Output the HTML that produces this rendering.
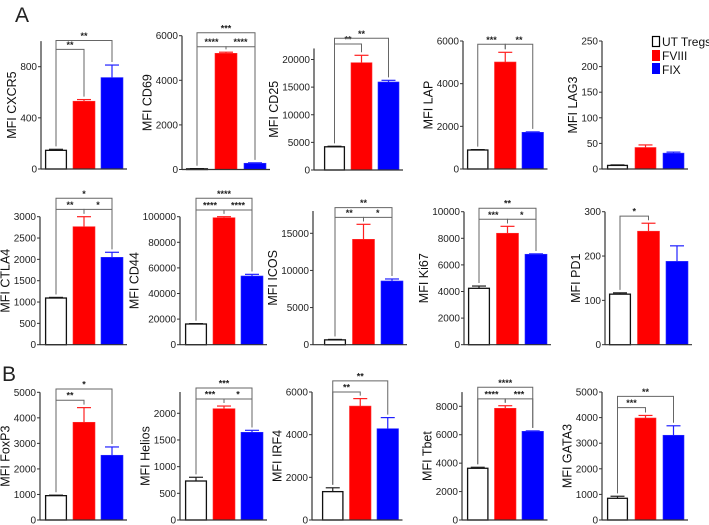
<!DOCTYPE html>
<html><head><meta charset="utf-8"><style>
html,body{margin:0;padding:0;background:#fff;}
svg{display:block;font-family:"Liberation Sans",Arial,sans-serif;}
</style></head><body>
<svg id="fig" width="709" height="525" viewBox="0 0 709 525">
<text x="15" y="22" font-size="21" fill="#222">A</text>
<text x="2" y="381" font-size="21" fill="#222">B</text>
<g>
<rect x="652.5" y="36.5" width="7" height="10" fill="#fff" stroke="#000" stroke-width="1.2"/>
<text x="662" y="46" font-size="12" fill="#111">UT Tregs</text>
<rect x="652" y="50" width="8" height="11" fill="#ff0000"/>
<text x="662" y="60" font-size="12" fill="#111">FVIII</text>
<rect x="652" y="63" width="8" height="11" fill="#0000ff"/>
<text x="662" y="74" font-size="12" fill="#111">FIX</text>
</g>
</svg>
<script>
const categories = ['UT Tregs','FVIII','FIX'];
const cxcr5Values=[146,530,715]; const cxcr5Errors=[8,13,98];
const cd69Values=[30,5210,280]; const cd69Errors=[10,50,20];
const cd25Values=[4200,19420,15930]; const cd25Errors=[100,1340,300];
const lapValues=[890,5015,1720]; const lapErrors=[20,455,20];
const lag3Values=[7,42,31]; const lag3Errors=[1,5,2];
const ctla4Values=[1094,2766,2048]; const ctla4Errors=[15,234,118];
const cd44Values=[16170,99200,53670]; const cd44Errors=[300,800,1300];
const icosValues=[650,14190,8580]; const icosErrors=[60,2020,270];
const ki67Values=[4240,8380,6800]; const ki67Errors=[170,520,30];
const pd1Values=[114,256,188]; const pd1Errors=[3,18,35];
const foxp3Values=[953,3826,2535]; const foxp3Errors=[20,574,325];
const heliosValues=[731,2086,1644]; const heliosErrors=[70,50,37];
const irf4Values=[1330,5340,4280]; const irf4Errors=[180,350,520];
const tbetValues=[3640,7860,6240]; const tbetErrors=[70,180,30];
const gata3Values=[848,3984,3310]; const gata3Errors=[80,100,370];
const cxcr5Ticks=[0,400,800];
const cd69Ticks=[0,2000,4000,6000];
const cd25Ticks=[0,5000,10000,15000,20000];
const lapTicks=[0,2000,4000,6000];
const lag3Ticks=[0,50,100,150,200,250];
const ctla4Ticks=[0,500,1000,1500,2000,2500,3000];
const cd44Ticks=[0,20000,40000,60000,80000,100000];
const icosTicks=[0,5000,10000,15000];
const ki67Ticks=[0,2000,4000,6000,8000,10000];
const pd1Ticks=[0,100,200,300];
const foxp3Ticks=[0,1000,2000,3000,4000,5000];
const heliosTicks=[0,500,1000,1500,2000];
const irf4Ticks=[0,2000,4000,6000];
const tbetTicks=[0,2000,4000,6000,8000];
const gata3Ticks=[0,1000,2000,3000,4000,5000];
// significance brackets: [from, to, level, label]
const cxcr5Sig=[[0,1,935,'**'],[0,2,1005,'**']];
const cd69Sig=[[0,1,5505,'****'],[1,2,5505,'****'],[0,2,6130,'***']];
const cd25Sig=[[0,1,22800,'**'],[0,2,23840,'**']];
const lapSig=[[0,1,5845,'***'],[1,2,5845,'**']];
const lag3Sig=[];
const ctla4Sig=[[0,1,3173,'**'],[1,2,3173,'*'],[0,2,3431,'*']];
const cd44Sig=[[0,1,105200,'****'],[1,2,105200,'****'],[0,2,114380,'****']];
const icosSig=[[0,1,17150,'**'],[1,2,17150,'*'],[0,2,18450,'**']];
const ki67Sig=[[0,1,9430,'***'],[1,2,9430,'*'],[0,2,10260,'**']];
const pd1Sig=[[0,1,290,'*']];
const foxp3Sig=[[0,1,4690,'**'],[0,2,5130,'*']];
const heliosSig=[[0,1,2268,'***'],[1,2,2268,'*'],[0,2,2475,'***']];
const irf4Sig=[[0,1,6000,'**'],[0,2,6520,'**']];
const tbetSig=[[0,1,8520,'****'],[1,2,8520,'***'],[0,2,9340,'****']];
const gata3Sig=[[0,1,4390,'***'],[0,2,4830,'**']];

const panels=[
 {id:'cxcr5',label:'MFI CXCR5',x0:41,base:169,topVal:800,topPx:66.7,axisMax:1000,off:4,sp:28,w:22,vals:cxcr5Values,errs:cxcr5Errors,ticks:cxcr5Ticks,sig:cxcr5Sig},
 {id:'cd69',label:'MFI CD69',x0:182,base:169.5,topVal:6000,topPx:35.7,axisMax:6000,off:4,sp:29,w:22,vals:cd69Values,errs:cd69Errors,ticks:cd69Ticks,sig:cd69Sig},
 {id:'cd25',label:'MFI CD25',x0:314,base:170,topVal:20000,topPx:59.5,axisMax:22000,off:10,sp:27,w:21,vals:cd25Values,errs:cd25Errors,ticks:cd25Ticks,sig:cd25Sig},
 {id:'lap',label:'MFI LAP',x0:463,base:169,topVal:6000,topPx:41,axisMax:6000,off:4,sp:27.5,w:21.5,vals:lapValues,errs:lapErrors,ticks:lapTicks,sig:lapSig},
 {id:'lag3',label:'MFI LAG3',x0:602,base:169,topVal:250,topPx:41,axisMax:250,off:5,sp:28,w:21,vals:lag3Values,errs:lag3Errors,ticks:lag3Ticks,sig:lag3Sig},
 {id:'ctla4',label:'MFI CTLA4',x0:40,base:344.7,topVal:3000,topPx:216.7,axisMax:3000,off:5,sp:28,w:22,vals:ctla4Values,errs:ctla4Errors,ticks:ctla4Ticks,sig:ctla4Sig},
 {id:'cd44',label:'MFI CD44',x0:180,base:344.7,topVal:100000,topPx:216.7,axisMax:100000,off:5,sp:28,w:22,vals:cd44Values,errs:cd44Errors,ticks:cd44Ticks,sig:cd44Sig},
 {id:'icos',label:'MFI ICOS',x0:313,base:344.7,topVal:15000,topPx:233.3,axisMax:18000,off:11,sp:28.5,w:22,vals:icosValues,errs:icosErrors,ticks:icosTicks,sig:icosSig},
 {id:'ki67',label:'MFI Ki67',x0:464,base:344.7,topVal:10000,topPx:211.7,axisMax:10000,off:4,sp:28.5,w:22,vals:ki67Values,errs:ki67Errors,ticks:ki67Ticks,sig:ki67Sig},
 {id:'pd1',label:'MFI PD1',x0:605,base:344.7,topVal:300,topPx:211.7,axisMax:300,off:4,sp:28.5,w:22,vals:pd1Values,errs:pd1Errors,ticks:pd1Ticks,sig:pd1Sig},
 {id:'foxp3',label:'MFI FoxP3',x0:40,base:520,topVal:5000,topPx:392.3,axisMax:5000,off:5,sp:28,w:22,vals:foxp3Values,errs:foxp3Errors,ticks:foxp3Ticks,sig:foxp3Sig},
 {id:'helios',label:'MFI Helios',x0:180,base:520,topVal:2000,topPx:413.3,axisMax:2400,off:5,sp:28,w:22,vals:heliosValues,errs:heliosErrors,ticks:heliosTicks,sig:heliosSig},
 {id:'irf4',label:'MFI IRF4',x0:312,base:520,topVal:6000,topPx:392,axisMax:6000,off:10,sp:27.5,w:21.5,vals:irf4Values,errs:irf4Errors,ticks:irf4Ticks,sig:irf4Sig},
 {id:'tbet',label:'MFI Tbet',x0:462,base:520,topVal:8000,topPx:406.3,axisMax:9000,off:5,sp:27.5,w:21.5,vals:tbetValues,errs:tbetErrors,ticks:tbetTicks,sig:tbetSig},
 {id:'gata3',label:'MFI GATA3',x0:602,base:520,topVal:5000,topPx:392,axisMax:5000,off:5,sp:28,w:21,vals:gata3Values,errs:gata3Errors,ticks:gata3Ticks,sig:gata3Sig}
];
const NS='http://www.w3.org/2000/svg';
const svg=document.getElementById('fig');
const fills=['#ffffff','#ff0000','#0000ff'];
const strokes=['#111','#ff3030','#3030ff'];
const errCols=['#222','#ff2020','#2020ff'];
const slug=['ut-tregs','fviii','fix'];
function mk(tag,attrs,parent){const e=document.createElementNS(NS,tag);for(const k in attrs)e.setAttribute(k,attrs[k]);parent.appendChild(e);return e;}
panels.forEach(p=>{
 const g=mk('g',{},svg);
 
 
 const k=(p.base-p.topPx)/p.topVal;
 const y=v=>p.base-v*k;
 const xL=i=>p.x0+p.off+i*p.sp;
 const xC=i=>xL(i)+p.w/2;
 const xEnd=p.x0+p.off+2*p.sp+p.w+4;
 p.vals.forEach((v,i)=>{
  const top=y(v+p.errs[i]);
  const el=mk('line',{x1:xC(i),x2:xC(i),y1:y(v),y2:top,stroke:errCols[i],'stroke-width':1.2},g);
  
  
  const cap=mk('line',{x1:xC(i)-7,x2:xC(i)+7,y1:top,y2:top,stroke:errCols[i],'stroke-width':1.2},g);
  
  
  const r=mk('rect',{x:xL(i)+(i==0?0.6:0),y:y(v),width:p.w-(i==0?1.2:0),height:Math.max(0,p.base-y(v)),fill:fills[i],stroke:strokes[i],'stroke-width':i==0?1.3:0.6},g);
  
  
 });
 const ya=mk('line',{x1:p.x0,x2:p.x0,y1:p.base,y2:y(p.axisMax),stroke:'#333','stroke-width':1.2},g);
 
 
 const xa=mk('line',{x1:p.x0,x2:xEnd,y1:p.base,y2:p.base,stroke:'#333','stroke-width':1.2},g);
 
 
 let maxChars=1;
 p.ticks.forEach(t=>{
  const tm=mk('line',{x1:p.x0-3,x2:p.x0,y1:y(t),y2:y(t),stroke:'#333','stroke-width':1},g);
  
  
  const tl=mk('text',{x:p.x0-4,y:y(t)+3.5,'font-size':10,'text-anchor':'end',fill:'#222'},g);
  tl.textContent=String(t);
  
  
  maxChars=Math.max(maxChars,String(t).length);
 });
 const lx=p.x0-5-maxChars*5.6-3;
 const ly=(p.base+y(p.axisMax))/2;
 const yl=mk('text',{x:lx,y:ly,'font-size':12.5,'text-anchor':'middle',fill:'#111',transform:`rotate(-90 ${lx} ${ly})`},g);
 yl.textContent=p.label;
 
 
 p.sig.forEach(s=>{
  const [a,b,lvl,lab]=s;
  const by=y(lvl);
  const la=y(p.vals[a]+p.errs[a])-3, lb=y(p.vals[b]+p.errs[b])-3;
  const pa=mk('path',{d:`M${xC(a)},${la}V${by}H${xC(b)}V${lb}`,fill:'none',stroke:'#666','stroke-width':1},g);
  
  
  const st=mk('text',{x:(xC(a)+xC(b))/2,y:by-1.5,'font-size':9,'font-weight':'bold','text-anchor':'middle',fill:'#222'},g);
  st.textContent=lab;
  
  
 });
});
</script>
</body></html>
